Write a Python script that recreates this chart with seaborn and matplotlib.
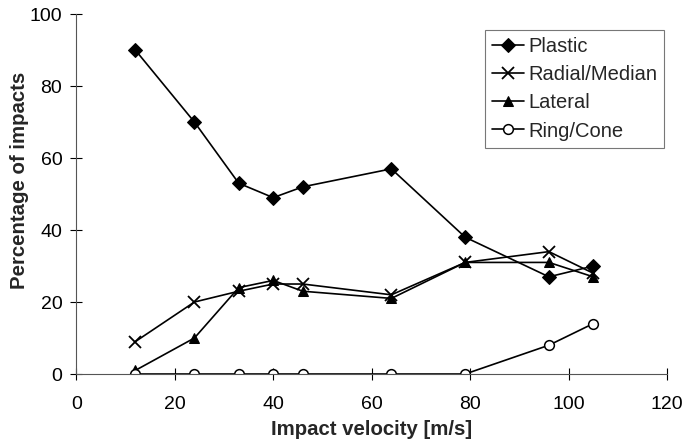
import matplotlib
matplotlib.use("Agg")
import matplotlib.pyplot as plt
import seaborn as sns
import pandas as pd

velocity = [12, 24, 33, 40, 46, 64, 79, 96, 105]
plastic = [90, 70, 53, 49, 52, 57, 38, 27, 30]
radial = [9, 20, 23, 25, 25, 22, 31, 34, 28]
lateral = [1, 10, 24, 26, 23, 21, 31, 31, 27]
ring = [0, 0, 0, 0, 0, 0, 0, 8, 14]

series_names = ["Plastic", "Radial/Median", "Lateral", "Ring/Cone"]
series_values = [plastic, radial, lateral, ring]

sns.set_theme(style="white")
plt.rcParams["font.family"] = ["Liberation Sans", "DejaVu Sans"]

fig = plt.figure(figsize=(6.87, 4.4), dpi=100)
ax = fig.add_axes([0.111, 0.15, 0.86, 0.818])

styles = {
    "Plastic": dict(marker="D", markersize=7, markerfacecolor="black"),
    "Radial/Median": dict(marker="x", markersize=9, markeredgewidth=1.3),
    "Lateral": dict(marker="^", markersize=7.5, markerfacecolor="black"),
    "Ring/Cone": dict(marker="o", markersize=7, markerfacecolor="white", markeredgewidth=1.1),
}

for name, vals in zip(series_names, series_values):
    df = pd.DataFrame({"v": velocity, "p": vals})
    sns.lineplot(data=df, x="v", y="p", ax=ax, color="black", linewidth=1.2,
                 markeredgecolor="black", label=name, **styles[name])

ax.set_xlim(0, 120)
ax.set_ylim(0, 100)
ax.set_xticks(range(0, 121, 20))
ax.set_yticks(range(0, 101, 20))
ax.tick_params(axis="both", direction="inout", length=8, width=0.8, colors="black",
               labelsize=14, bottom=True, left=True)
ax.tick_params(axis="x", pad=12)
ax.tick_params(axis="y", pad=6)
for s in ["top", "right"]:
    ax.spines[s].set_visible(False)
for s in ["left", "bottom"]:
    ax.spines[s].set_color("#555555")
    ax.spines[s].set_linewidth(0.8)
ax.set_xlabel("Impact velocity [m/s]", fontsize=14.7, fontweight="bold")
ax.set_ylabel("Percentage of impacts", fontsize=14.7, fontweight="bold")
ax.xaxis.set_label_coords(0.5, -0.127)
ax.yaxis.set_label_coords(-0.08, 0.539)

leg = ax.legend(loc="upper right", bbox_to_anchor=(0.995, 0.955), frameon=True,
                fancybox=False, edgecolor="#555555", fontsize=14.5, handlelength=1.6,
                handletextpad=0.2, labelspacing=0.45, borderpad=0.35, borderaxespad=0)
leg.get_frame().set_linewidth(0.8)

fig.savefig("out.png", dpi=100)
